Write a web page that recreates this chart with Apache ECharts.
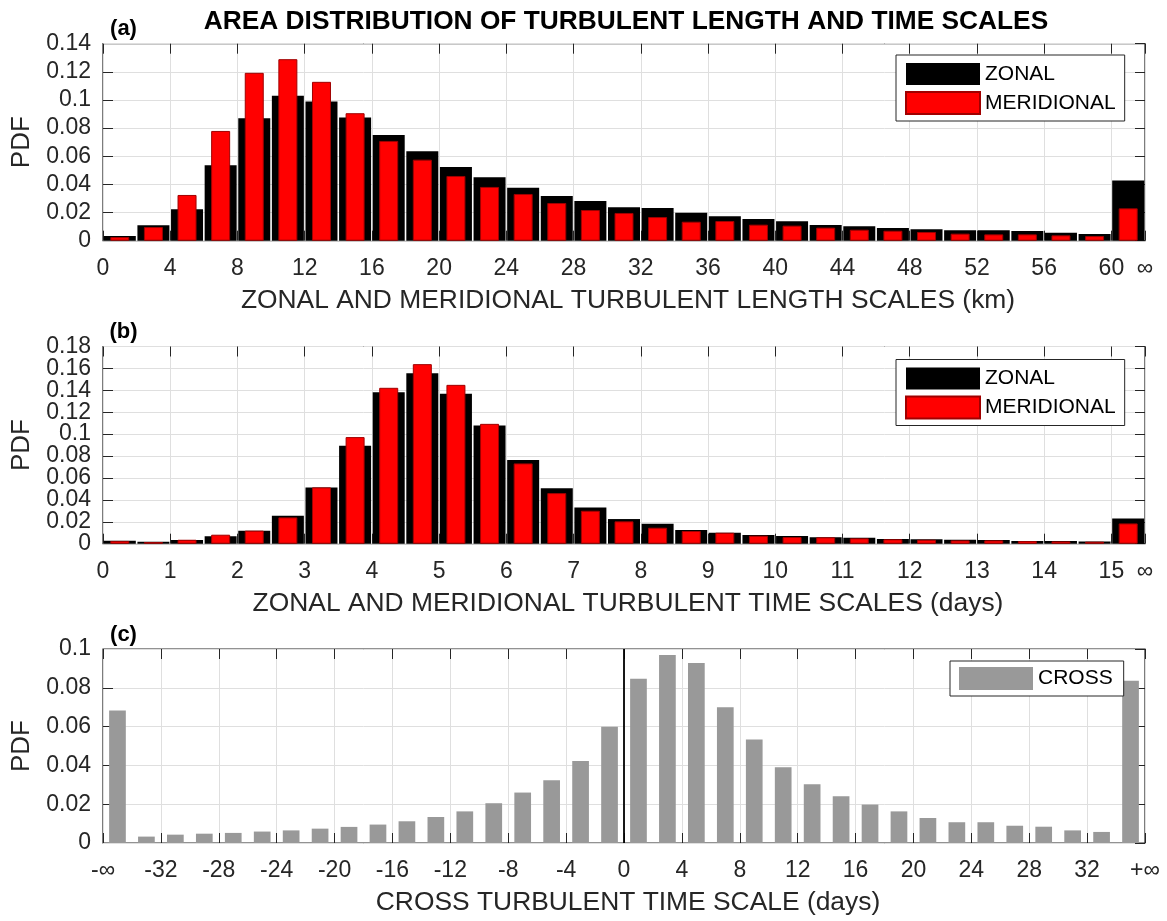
<!DOCTYPE html>
<html>
<head>
<meta charset="utf-8">
<script src="https://cdn.jsdelivr.net/npm/echarts@6/dist/echarts.min.js"></script>
<style>
html,body{margin:0;padding:0;background:#fff;}
#chart{width:1167px;height:921px;}
</style>
</head>
<body>
<div id="chart"></div>
<script>
// ---------- DATA ----------
// Panel (a): length-scale bins (km), bin centres; the last bin is the "infinity" bin
const lengthBins = [1,3,5,7,9,11,13,15,17,19,21,23,25,27,29,31,33,35,37,39,41,43,45,47,49,51,53,55,57,59,61];
const zonalLength = [0.0033,0.0109,0.0223,0.0536,0.0871,0.1030,0.0989,0.0875,0.0752,0.0636,0.0524,0.0451,0.0377,0.0318,0.0282,0.0237,0.0232,0.0199,0.0173,0.0154,0.0138,0.0111,0.0102,0.0090,0.0081,0.0074,0.0074,0.0069,0.0057,0.0047,0.0427];
const meridionalLength = [0.0026,0.0097,0.0325,0.0780,0.1193,0.1290,0.1129,0.0906,0.0709,0.0576,0.0460,0.0382,0.0332,0.0268,0.0218,0.0197,0.0168,0.0135,0.0140,0.0114,0.0107,0.0093,0.0078,0.0071,0.0062,0.0050,0.0045,0.0045,0.0038,0.0033,0.0230];

// Panel (b): time-scale bins (days)
const timeBins = [0.25,0.75,1.25,1.75,2.25,2.75,3.25,3.75,4.25,4.75,5.25,5.75,6.25,6.75,7.25,7.75,8.25,8.75,9.25,9.75,10.25,10.75,11.25,11.75,12.25,12.75,13.25,13.75,14.25,14.75,15.25];
const zonalTime = [0.0028,0.0018,0.0033,0.0067,0.0119,0.0255,0.0514,0.0894,0.1383,0.1556,0.1368,0.1079,0.0763,0.0505,0.0331,0.0225,0.0182,0.0125,0.0100,0.0079,0.0070,0.0058,0.0055,0.0043,0.0040,0.0036,0.0033,0.0024,0.0024,0.0021,0.0231];
const meridionalTime = [0.0025,0.0015,0.0036,0.0082,0.0119,0.0240,0.0514,0.0973,0.1423,0.1639,0.1450,0.1094,0.0733,0.0462,0.0301,0.0204,0.0146,0.0116,0.0100,0.0073,0.0061,0.0058,0.0049,0.0040,0.0036,0.0030,0.0030,0.0024,0.0021,0.0018,0.0185];

// Panel (c): cross time-scale bins (days); first = -inf, last = +inf
const crossBins = [-35,-33,-31,-29,-27,-25,-23,-21,-19,-17,-15,-13,-11,-9,-7,-5,-3,-1,1,3,5,7,9,11,13,15,17,19,21,23,25,27,29,31,33,35];
const crossValues = [0.0683,0.0033,0.0043,0.0048,0.0052,0.0059,0.0065,0.0074,0.0083,0.0095,0.0112,0.0134,0.0163,0.0205,0.0260,0.0324,0.0423,0.0599,0.0847,0.0969,0.0928,0.0700,0.0534,0.0391,0.0303,0.0241,0.0198,0.0163,0.0129,0.0107,0.0107,0.0089,0.0084,0.0065,0.0057,0.0836];

// Texts
const mainTitle = 'AREA DISTRIBUTION OF TURBULENT LENGTH AND TIME SCALES';
const xTitles = ['ZONAL AND MERIDIONAL TURBULENT LENGTH SCALES (km)','ZONAL AND MERIDIONAL TURBULENT TIME SCALES (days)','CROSS TURBULENT TIME SCALE (days)'];
const panelLabels = ['(a)','(b)','(c)'];
const yTitle = 'PDF';

// ---------- CHART ----------
const FONT = '"Liberation Sans", Arial, Helvetica, sans-serif';
const AX = '#262626';
const GRIDC = '#dfdfdf';
const pairs = (xs, ys) => xs.map((x, i) => [x, ys[i]]);
const fmtNum = v => String(parseFloat(Number(v).toFixed(4)));

const grids = [
  {left:103, top:43.7, width:1042, height:197},
  {left:103, top:346.5, width:1042, height:197.2},
  {left:103, top:649, width:1042, height:194}
].map(g => Object.assign(g, {show:true, borderColor:AX, borderWidth:1.2, backgroundColor:'transparent'}));

const tickStyle = {show:true, inside:true, length:10, lineStyle:{color:AX, width:1}};
const yLabelBase = {show:true, margin:12, fontSize:23, color:AX, fontFamily:FONT, hideOverlap:false};

function xAxes(gi, min, max, interval, fmt) {
  return [
    {gridIndex:gi, type:'value', min, max, interval, position:'bottom',
     axisLine:{show:false, onZero:false},
     axisTick:tickStyle,
     splitLine:{show:true, lineStyle:{color:GRIDC, width:1}},
     axisLabel:{show:true, margin:16, fontSize:23, color:AX, fontFamily:FONT, formatter:fmt,
                showMinLabel:true, showMaxLabel:true, hideOverlap:false}},
    {gridIndex:gi, type:'value', min, max, interval, position:'top',
     axisLine:{show:false, onZero:false},
     axisTick:tickStyle,
     splitLine:{show:false}, axisLabel:{show:false}}
  ];
}
function yAxes(gi, max) {
  return [
    // interior labels, grid lines, left ticks
    {gridIndex:gi, type:'value', min:0, max, interval:0.02, position:'left',
     axisLine:{show:false, onZero:false},
     axisTick:tickStyle,
     splitLine:{show:true, lineStyle:{color:GRIDC, width:1}},
     axisLabel:Object.assign({}, yLabelBase, {showMinLabel:false, showMaxLabel:false, formatter:fmtNum})},
    // right ticks
    {gridIndex:gi, type:'value', min:0, max, interval:0.02, position:'right',
     axisLine:{show:false, onZero:false},
     axisTick:tickStyle,
     splitLine:{show:false}, axisLabel:{show:false}},
    // end labels (0 and max) only
    {gridIndex:gi, type:'value', min:0, max, interval:0.02, position:'left',
     axisLine:{show:false, onZero:false},
     axisTick:{show:false}, splitLine:{show:false},
     axisLabel:Object.assign({}, yLabelBase, {showMinLabel:true, showMaxLabel:true,
        formatter: v => (Math.abs(v) < 1e-9 || Math.abs(v - max) < 1e-9) ? fmtNum(v) : ''})}
  ];
}

const xAxis = [].concat(
  xAxes(0, 0, 62, 4, v => v === 62 ? '∞' : String(v)),
  xAxes(1, 0, 15.5, 1, v => v === 15.5 ? '∞' : String(v)),
  xAxes(2, -36, 36, 4, v => v === -36 ? '-∞' : (v === 36 ? '+∞' : String(v)))
);
const yAxis = [].concat(yAxes(0, 0.14), yAxes(1, 0.18), yAxes(2, 0.1));

const blackStyle = {color:'#000000'};
const redStyle = {color:'#ff0000', borderColor:'#a00000', borderWidth:1};

const series = [
  {name:'ZONAL', type:'bar', xAxisIndex:0, yAxisIndex:0, barWidth:32, itemStyle:blackStyle, data:pairs(lengthBins, zonalLength)},
  {name:'MERIDIONAL', type:'bar', xAxisIndex:1, yAxisIndex:0, barWidth:19, itemStyle:redStyle, data:pairs(lengthBins, meridionalLength)},
  {name:'ZONAL', type:'bar', xAxisIndex:2, yAxisIndex:3, barWidth:32, itemStyle:blackStyle, data:pairs(timeBins, zonalTime)},
  {name:'MERIDIONAL', type:'bar', xAxisIndex:3, yAxisIndex:3, barWidth:19, itemStyle:redStyle, data:pairs(timeBins, meridionalTime)},
  {name:'CROSS', type:'bar', xAxisIndex:4, yAxisIndex:6, barWidth:16.7, itemStyle:{color:'#999999'}, data:pairs(crossBins, crossValues),
   markLine:{silent:true, symbol:['none','none'], label:{show:false}, lineStyle:{color:'#000', width:1.8, type:'solid'}, data:[{xAxis:0}]}}
];

const legendBase = {orient:'vertical', icon:'rect', itemWidth:74, itemHeight:22, itemGap:6,
  borderColor:AX, borderWidth:1, backgroundColor:'#ffffff', selectedMode:false,
  textStyle:{fontSize:21, color:'#000', fontFamily:FONT, lineHeight:22}};
const legend = [
  Object.assign({}, legendBase, {data:['ZONAL','MERIDIONAL'], left:896, top:55, padding:[8,9,6,9]}),
  Object.assign({}, legendBase, {data:['ZONAL','MERIDIONAL'], left:896, top:359.5, padding:[8,9,6,9]}),
  Object.assign({}, legendBase, {data:['CROSS'], left:950, top:661, itemHeight:23, padding:[6,11,6,9]})
];

const txt = (text, x, y, font, fill, rot) => ({type:'text', x, y, rotation:rot || 0, silent:true,
  style:{text, font, fill, textAlign:'center', verticalAlign:'middle'}});
const graphic = [
  txt(mainTitle, 626, 22, 'bold 26.3px ' + FONT, '#000'),
  txt(panelLabels[0], 123.5, 29, 'bold 22px ' + FONT, '#000'),
  txt(panelLabels[1], 123.5, 332, 'bold 22px ' + FONT, '#000'),
  txt(panelLabels[2], 123.5, 634.7, 'bold 22px ' + FONT, '#000'),
  txt(xTitles[0], 628, 300.7, '26.4px ' + FONT, AX),
  txt(xTitles[1], 628, 603.7, '26.4px ' + FONT, AX),
  txt(xTitles[2], 628, 903, '26.4px ' + FONT, AX),
  txt(yTitle, 22, 142.2, '26px ' + FONT, AX, Math.PI/2),
  txt(yTitle, 22, 445.1, '26px ' + FONT, AX, Math.PI/2),
  txt(yTitle, 22, 746, '26px ' + FONT, AX, Math.PI/2)
];

const chart = echarts.init(document.getElementById('chart'), null, {renderer:'canvas'});
chart.setOption({animation:false, backgroundColor:'#ffffff', grid:grids, xAxis, yAxis, series, legend, graphic});
</script>
</body>
</html>
